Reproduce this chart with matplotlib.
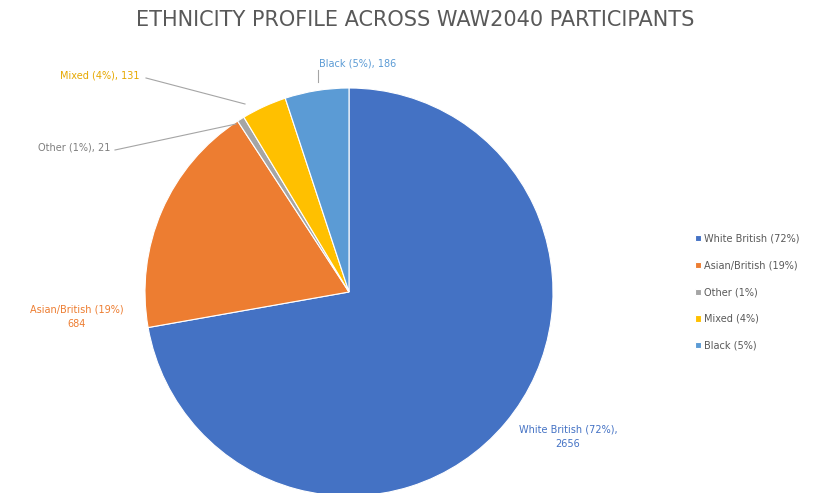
import matplotlib.pyplot as plt
import numpy as np

categories = ["White British", "Asian/British", "Other", "Mixed", "Black"]
counts = [2656, 684, 21, 131, 186]
colors = ["#4472C4", "#ED7D31", "#A5A5A5", "#FFC000", "#5B9BD5"]

W, H = 817, 493
fig = plt.figure(figsize=(W / 100, H / 100), dpi=100)
ax = fig.add_axes([0, 0, 1, 1])

total = sum(counts)
pcts = [round(100 * c / total) for c in counts]

# pie, drawn in pixel coords (y measured from bottom)
cx, cy, r = 349, H - 292, 204
wedges, _ = ax.pie(counts, colors=colors, startangle=90, counterclock=False,
                   center=(cx, cy), radius=r, frame=True,
                   wedgeprops=dict(edgecolor="white", linewidth=0.8))
ax.set_xlim(0, W)
ax.set_ylim(0, H)
ax.set_aspect("equal")
ax.axis("off")

ax.text(415, H - 20, "ETHNICITY PROFILE ACROSS WAW2040 PARTICIPANTS",
        ha="center", va="center", fontsize=15, color="#595959")

lbl = [f"{n} ({p}%), {c}" for n, p, c in zip(categories, pcts, counts)]
fs = 7

# data labels with leader lines
ax.text(568, H - 437, f"{categories[0]} ({pcts[0]}%),\n{counts[0]}", ha="center",
        va="center", fontsize=fs, color=colors[0], linespacing=1.6)
ax.text(77, H - 317, f"{categories[1]} ({pcts[1]}%)\n{counts[1]}", ha="center",
        va="center", fontsize=fs, color=colors[1], linespacing=1.6)
ax.text(110, H - 148, lbl[2], ha="right", va="center", fontsize=fs, color="#7F7F7F")
ax.plot([115, 236], [H - 150, H - 124], color="#A5A5A5", lw=0.8)
ax.text(140, H - 75, lbl[3], ha="right", va="center", fontsize=fs, color="#E6A800")
ax.plot([146, 245], [H - 78, H - 104], color="#A5A5A5", lw=0.8)
ax.text(358, H - 63, lbl[4], ha="center", va="center", fontsize=fs, color=colors[4])
ax.plot([318, 318], [H - 70, H - 82], color="#A5A5A5", lw=0.8)

leg = ax.legend(wedges, [f"{n} ({p}%)" for n, p in zip(categories, pcts)],
                loc="upper left", bbox_to_anchor=(686 / W, 1 - 225 / H),
                frameon=False, fontsize=7, labelspacing=1.72,
                handlelength=0.6, handleheight=0.6, handletextpad=0.4)
for t in leg.get_texts():
    t.set_color("#595959")

fig.savefig("out.png", dpi=100, facecolor="white")
